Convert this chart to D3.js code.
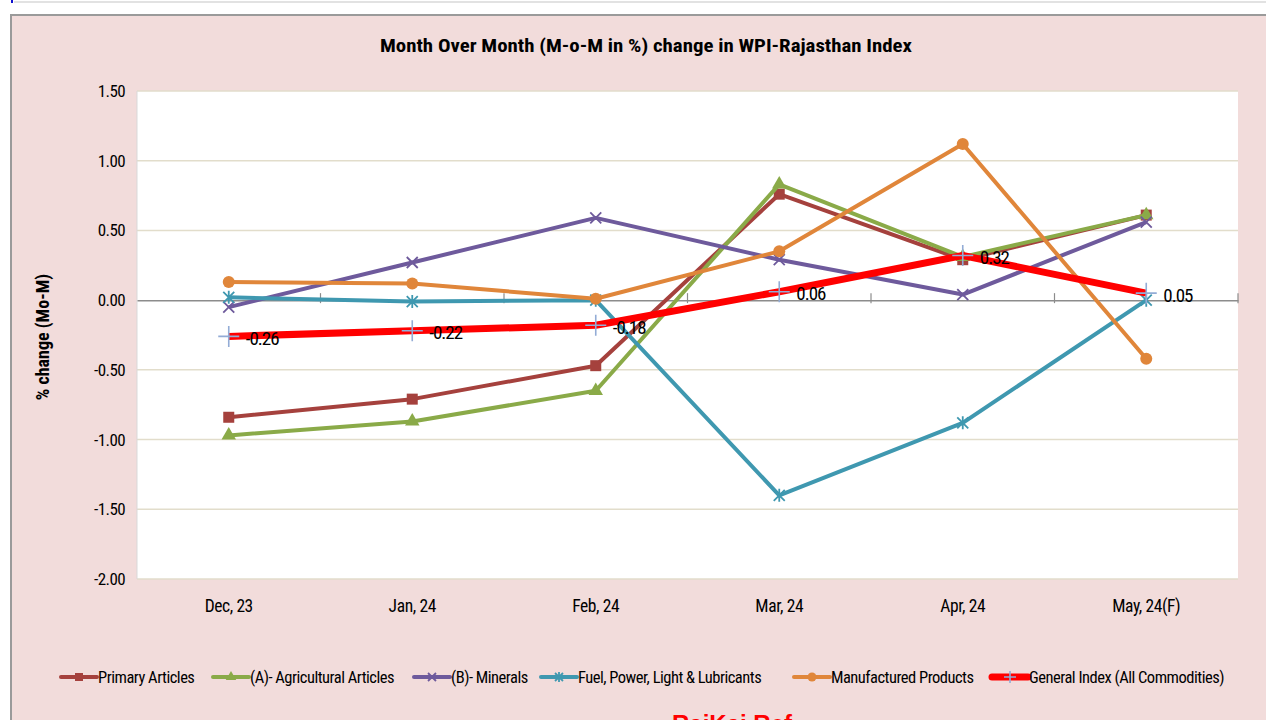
<!DOCTYPE html>
<html>
<head>
<meta charset="utf-8">
<script src="https://cdn.jsdelivr.net/npm/d3@7"></script>
<style>
  body { margin: 0; background: #fff; overflow: hidden; }
  svg { display: block; }
  text { font-family: "Liberation Sans Narrow", "Arial Narrow", "Roboto Condensed", "Liberation Sans", sans-serif; }
</style>
</head>
<body>
<div id="chart"></div>
<script>
// chart data
const months = ["Dec, 23", "Jan, 24", "Feb, 24", "Mar, 24", "Apr, 24", "May, 24(F)"];
const primaryArticles = [-0.84, -0.71, -0.47, 0.76, 0.29, 0.61];
const agriArticles = [-0.97, -0.87, -0.65, 0.83, 0.31, 0.61];
const minerals = [-0.05, 0.27, 0.59, 0.29, 0.04, 0.56];
const fuelPower = [0.02, -0.01, 0.00, -1.40, -0.88, 0.00];
const manufactured = [0.13, 0.12, 0.01, 0.35, 1.12, -0.42];
const generalIndex = [-0.26, -0.22, -0.18, 0.06, 0.32, 0.05];
const yTicks = [1.5, 1.0, 0.5, 0.0, -0.5, -1.0, -1.5, -2.0];

const series = [
  {name: "Primary Articles", values: primaryArticles, color: "#A5413D", marker: "square", width: 4},
  {name: "(A)- Agricultural Articles", values: agriArticles, color: "#8AAA48", marker: "triangle", width: 4},
  {name: "(B)- Minerals", values: minerals, color: "#6E5A9C", marker: "x", width: 4},
  {name: "Fuel, Power, Light & Lubricants", values: fuelPower, color: "#3F98B0", marker: "star", width: 4},
  {name: "Manufactured Products", values: manufactured, color: "#E0863A", marker: "circle", width: 4},
  {name: "General Index (All Commodities)", values: generalIndex, color: "#FF0000", marker: "plus", width: 7, labels: true}
];

// excel style numbers, plain hyphen for minus
const fmt = v => d3.format(".2f")(v).replace("\u2212", "-");

const W = 1266, H = 720;
const svg = d3.select("#chart").append("svg")
  .attr("width", W).attr("height", H);

// outer frame (pink chart area)
svg.append("line").attr("x1", 14).attr("x2", W).attr("y1", 2).attr("y2", 2)
  .style("stroke", "#d8d8d8").style("stroke-width", 1.5);
svg.append("rect").attr("x", 11).attr("y", 0).attr("width", 2).attr("height", 3).style("fill", "#1010d0");
svg.append("rect").attr("x", 11).attr("y", 15).attr("width", W).attr("height", H)
  .style("fill", "#F2DCDB").style("stroke", "#9a9a9a").style("stroke-width", 2);

const plot = {left: 137, right: 1238, top: 91, bottom: 579};

const x = d3.scaleBand().domain(months).range([plot.left, plot.right]);
const cx = d => x(d) + x.bandwidth() / 2;
const y = d3.scaleLinear().domain([-2, 1.5]).range([plot.bottom, plot.top]);

svg.append("rect")
  .attr("x", plot.left).attr("y", plot.top)
  .attr("width", plot.right - plot.left).attr("height", plot.bottom - plot.top)
  .style("fill", "#fff");

// gridlines
svg.append("g").selectAll("line")
  .data(yTicks.filter(t => t !== 0))
  .join("line")
  .attr("x1", plot.left).attr("x2", plot.right)
  .attr("y1", d => y(d)).attr("y2", d => y(d))
  .style("stroke", "#E2DDCB").style("stroke-width", 1.5);

// left edge
svg.append("line").attr("x1", plot.left).attr("x2", plot.left)
  .attr("y1", plot.top).attr("y2", plot.bottom)
  .style("stroke", "#d9d9d9").style("stroke-width", 1);

// y axis labels
svg.append("g").selectAll("text")
  .data(yTicks)
  .join("text")
  .attr("x", 125).attr("y", d => y(d))
  .attr("dy", "0.35em")
  .attr("text-anchor", "end")
  .style("font-size", "17px").style("letter-spacing", "-0.6px")
  .text(d => fmt(d));

// zero axis with ticks at category boundaries
const xAxis = d3.axisBottom(x).tickSize(0).tickFormat("");
const zeroG = svg.append("g").attr("transform", `translate(0,${y(0)})`).call(xAxis);
zeroG.select(".domain").style("stroke", "#8c8c8c").style("stroke-width", 1.5);
const bounds = months.map(m => x(m)).concat([plot.right]);
zeroG.selectAll(".bnd").data(bounds.slice(1)).join("line")
  .attr("class", "bnd")
  .attr("x1", d => d).attr("x2", d => d).attr("y1", -7).attr("y2", 3)
  .style("stroke", "#8c8c8c").style("stroke-width", 1.2);

// x labels
svg.append("g").selectAll("text")
  .data(months)
  .join("text")
  .attr("x", d => cx(d)).attr("y", 612)
  .attr("text-anchor", "middle")
  .style("font-size", "17.5px").style("letter-spacing", "-0.4px")
  .text(d => d);

// titles
svg.append("text")
  .attr("x", 646).attr("y", 52)
  .attr("text-anchor", "middle")
  .attr("textLength", 532).attr("lengthAdjust", "spacingAndGlyphs")
  .style("font-size", "18px").style("font-weight", "bold")
  .text("Month Over Month (M-o-M in %) change in WPI-Rajasthan Index");

svg.append("text")
  .attr("transform", "translate(49,337) rotate(-90)")
  .attr("text-anchor", "middle")
  .style("font-size", "18px").style("font-weight", "bold")
  .text("% change  (Mo-M)");

// marker drawing
function drawMarker(g, type, color, s) {
  if (type === "square") {
    g.append("rect").attr("x", -s / 2).attr("y", -s / 2).attr("width", s).attr("height", s).style("fill", color);
  } else if (type === "triangle") {
    g.append("path").attr("d", d3.symbol(d3.symbolTriangle, s * s * 0.75)()).style("fill", color);
  } else if (type === "circle") {
    g.append("circle").attr("r", s / 2 + 0.5).style("fill", color);
  } else if (type === "x") {
    const h = s / 2;
    g.append("path").attr("d", `M${-h},${-h}L${h},${h}M${-h},${h}L${h},${-h}`)
      .style("stroke", color).style("stroke-width", 1.8).style("fill", "none");
  } else if (type === "star") {
    const h = s / 2;
    g.append("path").attr("d", `M${-h},${-h}L${h},${h}M${-h},${h}L${h},${-h}M0,${-h - 1}L0,${h + 1}`)
      .style("stroke", color).style("stroke-width", 1.8).style("fill", "none");
  } else if (type === "plus") {
    const h = s / 2;
    g.append("path").attr("d", `M${-h},0L${h},0M0,${-h}L0,${h}`)
      .style("stroke", "#93ACD6").style("stroke-width", 1.6).style("fill", "none");
  }
}

const line = d3.line().x((d, i) => cx(months[i])).y(d => y(d));

series.forEach(s => {
  const g = svg.append("g");
  g.append("path")
    .datum(s.values)
    .attr("d", line)
    .style("fill", "none")
    .style("stroke", s.color)
    .style("stroke-width", s.width)
    .style("stroke-linejoin", "round");
  s.values.forEach((v, i) => {
    const m = g.append("g").attr("transform", `translate(${cx(months[i])},${y(v)})`);
    drawMarker(m, s.marker, s.color, s.marker === "plus" ? 21 : 11);
  });
  if (s.labels) {
    g.selectAll(".lbl").data(s.values).join("text")
      .attr("class", "lbl")
      .attr("x", (d, i) => cx(months[i]) + 17)
      .attr("y", d => y(d) + 2)
      .attr("dy", "0.35em")
      .style("font-size", "19px").style("letter-spacing", "-1px")
      .text(d => fmt(d));
  }
});

// legend
const legendX = [61, 213, 414, 541, 794, 992];
const legend = svg.append("g").attr("transform", "translate(0,677)");
series.forEach((s, i) => {
  const g = legend.append("g").attr("transform", `translate(${legendX[i]},0)`);
  g.append("line").attr("x1", 0).attr("x2", 36).attr("y1", 0).attr("y2", 0)
    .style("stroke", s.color).style("stroke-width", s.width === 7 ? 7 : 4)
    .style("stroke-linecap", "round");
  const m = g.append("g").attr("transform", "translate(18,0)");
  drawMarker(m, s.marker, s.color, s.marker === "plus" ? 12 : 8);
  g.append("text").attr("x", 37).attr("y", 0).attr("dy", "0.35em")
    .style("font-size", "16.5px").style("letter-spacing", "-0.5px")
    .text(s.name);
});

// cut-off footer text
svg.append("text")
  .attr("x", 672).attr("y", 732)
  .style("fill", "#FF0000").style("font-size", "24px").style("font-weight", "bold")
  .style("font-family", "'Liberation Sans', Arial, sans-serif")
  .text("RajKaj Ref");
</script>
</body>
</html>
